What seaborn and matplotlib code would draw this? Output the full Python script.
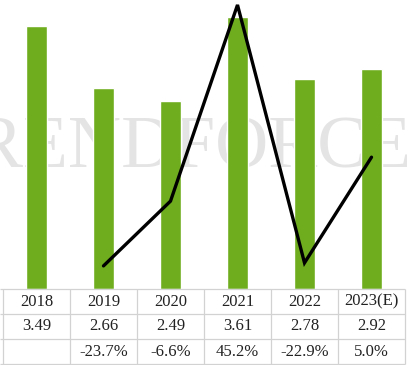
import pandas as pd
import seaborn as sns
import matplotlib.pyplot as plt

#----------------------------- data -----------------------------#
years = ['2018', '2019', '2020', '2021', '2022', '2023(E)']
values = [3.49, 2.66, 2.49, 3.61, 2.78, 2.92]
growth = [None, -23.7, -6.6, 45.2, -22.9, 5.0]
value_labels = ['3.49', '2.66', '2.49', '3.61', '2.78', '2.92']
growth_labels = ['', '-23.7%', '-6.6%', '45.2%', '-22.9%', '5.0%']

bar_df = pd.DataFrame({'year': years, 'value': values})
line_df = pd.DataFrame({'pos': range(len(years)), 'growth': growth}).dropna()

sns.set_style('white')
plt.rcParams['font.family'] = ['Liberation Serif', 'DejaVu Serif']

W, H = 407, 365
fig = plt.figure(figsize=(W / 100, H / 100), dpi=100)
xlim = (-0.5 - 3 / 67, 5.5 + 2 / 67)

# watermark behind everything
fig.text(1.012, (H - 168) / H, 'TRENDFORCE', ha='right', va='baseline',
         fontsize=53, color='#e4e4e4', zorder=-5)

#----------------------------- bars -----------------------------#
ax = fig.add_axes([0, (H - 289) / H, 1, 289 / H])
ax.patch.set_alpha(0)
sns.barplot(data=bar_df, x='year', y='value', color='#6fad1f', saturation=1,
            width=0.3, ax=ax)
ax.set_xlim(*xlim)
ax.set_ylim(0, 3.83)
ax.axis('off')

#----------------------------- growth line -----------------------------#
ax2 = ax.twinx()
sns.lineplot(data=line_df, x='pos', y='growth', color='black', linewidth=2.4,
             ax=ax2, solid_capstyle='round', solid_joinstyle='miter')
ax2.set_xlim(*xlim)
ax2.set_ylim(-29.8, 46.5)
ax2.axis('off')

#----------------------------- table -----------------------------#
tb = fig.add_axes([0, 1 / H, 1, 75 / H])
tb.patch.set_alpha(0)
tb.set_xlim(*xlim)
tb.set_ylim(3, 0)
tb.axis('off')
grid = '#d2d2d2'
tb.hlines([0, 1, 2, 3], xlim[0], 5.5, color=grid, lw=0.9, clip_on=False)
tb.vlines([i - 0.5 for i in range(7)], 0, 3, color=grid, lw=0.9, clip_on=False)
for i in range(len(years)):
    for r, row in enumerate([years, value_labels, growth_labels]):
        tb.text(i, r + 0.5, row[i], ha='center', va='center',
                fontsize=12, color='#222222')

fig.savefig('out.png', dpi=100)
